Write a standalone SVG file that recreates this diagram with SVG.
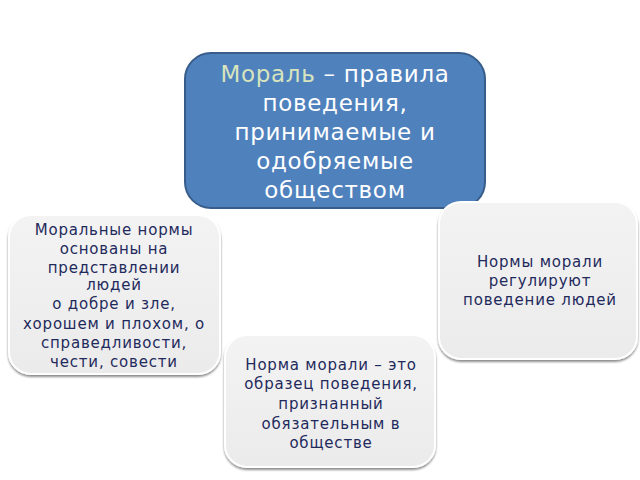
<svg xmlns="http://www.w3.org/2000/svg" width="640" height="480" viewBox="0 0 640 480">
<defs>
<filter id="sh" x="-10%" y="-10%" width="120%" height="125%">
<feGaussianBlur in="SourceAlpha" stdDeviation="1.2"/>
<feOffset dx="0" dy="2" result="b"/>
<feComponentTransfer><feFuncA type="linear" slope="0.45"/></feComponentTransfer>
<feMerge><feMergeNode/><feMergeNode in="SourceGraphic"/></feMerge>
</filter>
<linearGradient id="g" x1="0" y1="0" x2="0" y2="1">
<stop offset="0" stop-color="#f3f3f3"/>
<stop offset="1" stop-color="#ebebeb"/>
</linearGradient>
</defs>
<style>
.box{fill:url(#g);stroke:#ffffff;stroke-width:2;filter:url(#sh)}
.t{font-family:"DejaVu Sans",sans-serif;font-size:15px;letter-spacing:0.8px;fill:#1f2a5c;text-anchor:middle}
.w{font-family:"DejaVu Sans",sans-serif;font-size:23px;letter-spacing:0.7px;fill:#ffffff;text-anchor:middle}
</style>
<rect width="640" height="480" fill="#ffffff"/>
<g id="connectors"></g>
<g id="moral">
<rect x="185" y="53" width="300" height="155" rx="26" fill="#4f81bd" stroke="#385d8a" stroke-width="2"/>
<text class="w" x="335" y="82"><tspan fill="#d7e4bd">Мораль</tspan> – правила</text>
<text class="w" x="335" y="111">поведения,</text>
<text class="w" x="335" y="140">принимаемые и</text>
<text class="w" x="335" y="169">одобряемые</text>
<text class="w" x="335" y="198">обществом</text>
</g>
<g id="left">
<rect class="box" x="9" y="215" width="211" height="159" rx="22"/>
<text class="t" x="114" y="235">Моральные нормы</text>
<text class="t" x="114" y="254">основаны на</text>
<text class="t" x="114" y="273">представлении</text>
<text class="t" x="114" y="290">людей</text>
<text class="t" x="114" y="309">о добре и зле,</text>
<text class="t" x="114" y="329">хорошем и плохом, о</text>
<text class="t" x="114" y="348">справедливости,</text>
<text class="t" x="114" y="367">чести, совести</text>
</g>
<g id="right">
<rect class="box" x="439" y="202" width="198" height="157" rx="22"/>
<text class="t" x="540" y="267">Нормы морали</text>
<text class="t" x="540" y="286">регулируют</text>
<text class="t" x="540" y="305">поведение людей</text>
</g>
<g id="bottom">
<rect class="box" x="225" y="335" width="210" height="132" rx="22"/>
<text class="t" x="331" y="370">Норма морали – это</text>
<text class="t" x="331" y="389">образец поведения,</text>
<text class="t" x="331" y="409">признанный</text>
<text class="t" x="331" y="429">обязательным в</text>
<text class="t" x="331" y="448">обществе</text>
</g>
</svg>
